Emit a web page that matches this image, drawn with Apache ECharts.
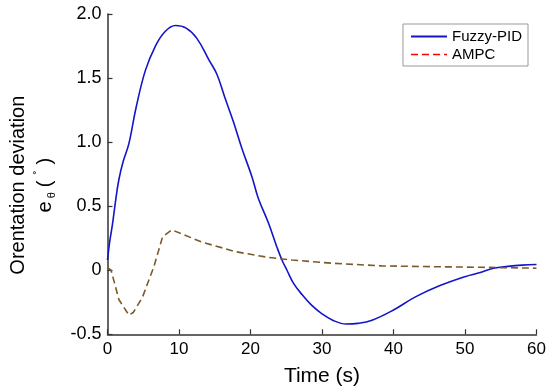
<!DOCTYPE html>
<html>
<head>
<meta charset="utf-8">
<script src="https://cdn.jsdelivr.net/npm/echarts@6/dist/echarts.min.js"></script>
<style>html,body{margin:0;padding:0;background:#fff;}#c{width:550px;height:392px;}</style>
</head>
<body>
<div id="c"></div>
<script>
var fuzzyT = [0, 0.3, 0.7, 1.15, 1.6, 2.2, 3.0, 4.0, 5.3, 6.7, 8.0, 9.5, 11.0, 12.5, 14.2, 15.3, 16.4, 17.6, 18.8, 20.2, 21.1, 22.5, 23.7, 24.4, 25.1, 26.0, 27.2, 28.5, 30.0, 31.5, 33.4, 35.0, 37.0, 40.0, 43.0, 46.5, 50.0, 52.0, 54.0, 56.0, 58.0, 60.0];
var fuzzyV = [0.08, 0.22, 0.36, 0.55, 0.71, 0.85, 0.99, 1.27, 1.56, 1.75, 1.86, 1.91, 1.89, 1.81, 1.64, 1.53, 1.35, 1.16, 0.95, 0.73, 0.56, 0.37, 0.18, 0.08, 0.0, -0.10, -0.19, -0.27, -0.34, -0.39, -0.42, -0.415, -0.39, -0.31, -0.21, -0.12, -0.05, -0.02, 0.015, 0.03, 0.04, 0.045];
var ampcT = [0, 0.5, 1.6, 3.0, 3.6, 4.9, 6.5, 7.7, 9.0, 13.2, 17.9, 22.5, 25.8, 31.3, 38.3, 45.3, 52.2, 60];
var ampcV = [0.02, 0.0, -0.23, -0.35, -0.33, -0.21, 0.03, 0.26, 0.315, 0.22, 0.145, 0.10, 0.08, 0.055, 0.034, 0.028, 0.023, 0.016];
var seriesNames = ['Fuzzy-PID', 'AMPC'];

function pairs(t, v) { return t.map(function (x, i) { return [x, v[i]]; }); }

var FONT = "'Liberation Sans', Arial, sans-serif";
var chart = echarts.init(document.getElementById('c'), null, { renderer: 'canvas' });
chart.setOption({
  animation: false,
  backgroundColor: '#fff',
  grid: { left: 105.5, right: 13.5, top: 14, bottom: 57.7, containLabel: false },
  legend: {
    orient: 'vertical',
    left: 403, top: 24,
    padding: [5, 6, 4, 7],
    itemGap: 3,
    itemWidth: 36, itemHeight: 14,
    borderColor: '#999', borderWidth: 1,
    backgroundColor: '#fff',
    itemStyle: { opacity: 0 },
    textStyle: { fontFamily: FONT, fontSize: 15, color: '#000' },
    data: [
      { name: seriesNames[0], itemStyle: { opacity: 0 } },
      { name: seriesNames[1], lineStyle: { color: '#ff0000', type: [7, 4], width: 1.5 }, itemStyle: { color: '#ff0000', opacity: 0 } }
    ]
  },
  xAxis: {
    type: 'value', min: 0, max: 60, interval: 10,
    name: 'Time (s)', nameLocation: 'middle', nameGap: 31,
    nameTextStyle: { fontFamily: FONT, fontSize: 21, color: '#000' },
    axisLine: { show: true, onZero: false, lineStyle: { color: '#333', width: 1.5 } },
    axisTick: { show: true, inside: true, length: 5, lineStyle: { color: '#333', width: 1.2 } },
    axisLabel: { fontFamily: FONT, fontSize: 17, color: '#000', margin: 7 },
    splitLine: { show: false }
  },
  yAxis: {
    type: 'value', min: -0.5, max: 2.0, interval: 0.5,
    name: '{a|Orentation deviation}\n{b|e}{s|θ}{b|(}{d|˚}{b|)}',
    nameLocation: 'middle', nameGap: 50,
    nameTextStyle: {
      fontFamily: FONT, fontSize: 20, color: '#000', padding: [0, 22, 0, 0],
      rich: {
        a: { fontFamily: FONT, fontSize: 20, lineHeight: 31, color: '#000' },
        b: { fontFamily: FONT, fontSize: 20, lineHeight: 24, color: '#000', padding: [0, 3, 0, 3] },
        s: { fontFamily: FONT, fontSize: 11, lineHeight: 24, color: '#000', verticalAlign: 'bottom', padding: [0, 2, 0, 0] },
        d: { fontFamily: FONT, fontSize: 12, lineHeight: 24, color: '#000', verticalAlign: 'top', padding: [0, 3, 0, 3] }
      }
    },
    axisLine: { show: true, onZero: false, lineStyle: { color: '#333', width: 1.5 } },
    axisTick: { show: true, inside: true, length: 5, lineStyle: { color: '#333', width: 1.2 } },
    axisLabel: {
      fontFamily: FONT, fontSize: 18, color: '#000', margin: 6,
      formatter: function (v) { return v === 0 ? '0' : v.toFixed(1); }
    },
    splitLine: { show: false }
  },
  series: [
    {
      name: seriesNames[0], type: 'line', data: pairs(fuzzyT, fuzzyV),
      smooth: 0.4, symbol: 'none', showSymbol: false,
      lineStyle: { color: '#1414c8', width: 1.6 }, itemStyle: { color: '#1414c8' }
    },
    {
      name: seriesNames[1], type: 'line', data: pairs(ampcT, ampcV),
      smooth: false, symbol: 'none', showSymbol: false,
      lineStyle: { color: '#7a5a2a', width: 1.6, type: [7, 4] }, itemStyle: { color: '#7a5a2a' }
    }
  ]
});
</script>
</body>
</html>
